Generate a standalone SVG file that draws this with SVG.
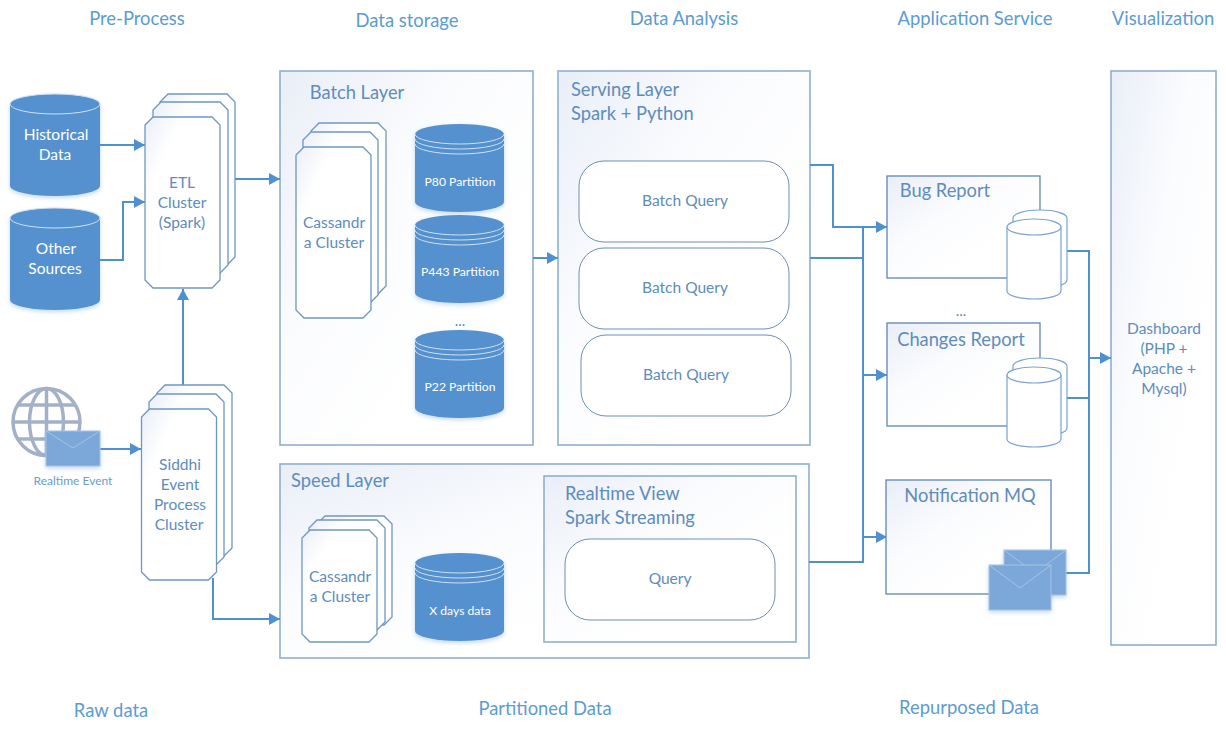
<svg xmlns="http://www.w3.org/2000/svg" xmlns:xlink="http://www.w3.org/1999/xlink" width="1226" height="733" viewBox="0 0 1226 733">
<style>
text{font-family:"Lato","Open Sans","Liberation Sans",sans-serif;text-anchor:middle;fill:#5b9bd5}
.h{font-size:18.4px}
.t{font-size:15.5px;fill:#5d8cbd}
.l{font-size:18.3px;fill:#5d8cbd}
.w{font-size:15.5px;fill:#fff}
.s{font-size:12.2px;fill:#fff}
.box{fill:url(#g);stroke:#8faed0;stroke-width:1.6}
.sm{fill:url(#g);stroke:#5f86b3;stroke-width:1.3}
.card{fill:url(#k);stroke:#6f96c2;stroke-width:1.3}
.rr{fill:#fff;stroke:#6f8fb5;stroke-width:1}
.cyl{fill:#5591cf;filter:url(#sh)}
.rim{fill:none;stroke:#cfe0f2;stroke-width:1}
.c2{fill:#fff;stroke:#7ca2cf;stroke-width:1.2}
.env{fill:#7ba7d9;stroke:#a9c3e2;stroke-width:1;filter:url(#sh)}
.flap{fill:none;stroke:#a9c3e2;stroke-width:1}
.cn{fill:none;stroke:#4e90d0;stroke-width:2}
.ah{fill:#4e90d0}
</style>
<defs>
<linearGradient id="g" x1="0" y1="0" x2="0.7" y2="0.7"><stop offset="0" stop-color="#e9eef7"/><stop offset="0.55" stop-color="#fbfcfe"/><stop offset="1" stop-color="#fff"/></linearGradient>
<linearGradient id="k" x1="0" y1="0" x2="0.5" y2="0.5"><stop offset="0" stop-color="#eaeff7"/><stop offset="0.5" stop-color="#fff"/><stop offset="1" stop-color="#fff"/></linearGradient>
<filter id="sh" x="-10%" y="-10%" width="120%" height="125%"><feDropShadow dx="0" dy="2" stdDeviation="2" flood-color="#5591cf" flood-opacity="0.35"/></filter>
<marker id="a" markerUnits="userSpaceOnUse" markerWidth="12" markerHeight="12" refX="11" refY="6" orient="auto"><path class="ah" d="M0,0 L11,6 L0,12 Z"/></marker>
<path id="stack" d="M8,0 H67 L75,8 V163 L67,171 H8 L0,163 V8 Z"/>
<path id="cylb" d="M0,10 A45,10 0 0 1 90,10 V92 A45,10 0 0 1 0,92 Z"/>
</defs>

<g id="headings">
<text class="h" x="137" y="25">Pre-Process</text>
<text class="h" x="407" y="27">Data storage</text>
<text class="h" x="684" y="25">Data Analysis</text>
<text class="h" x="975" y="25">Application Service</text>
<text class="h" x="1163" y="25">Visualization</text>
<text class="h" x="111" y="717">Raw data</text>
<text class="h" x="545" y="715">Partitioned Data</text>
<text class="h" x="969" y="714">Repurposed Data</text>
</g>

<g id="batch-layer"><rect class="box" x="280" y="71" width="253" height="374"/><text class="l" x="357" y="99">Batch Layer</text></g>
<g id="serving-layer"><rect class="box" x="558" y="71" width="252" height="374"/><text class="l" x="571" y="96" style="text-anchor:start">Serving Layer</text><text class="l" x="571" y="120" style="text-anchor:start">Spark + Python</text></g>
<g id="speed-layer"><rect class="box" x="280" y="464" width="529" height="194"/><text class="l" x="340" y="487">Speed Layer</text></g>
<g id="realtime-view"><rect class="box" x="544" y="476" width="252" height="166"/><text class="l" x="565" y="500" style="text-anchor:start">Realtime View</text><text class="l" x="565" y="524" style="text-anchor:start">Spark Streaming</text></g>
<g id="dashboard"><rect class="box" x="1111" y="71" width="105" height="574"/><text class="t" x="1164" y="334">Dashboard</text><text class="t" x="1164" y="354">(PHP +</text><text class="t" x="1164" y="374">Apache +</text><text class="t" x="1164" y="394">Mysql)</text></g>

<g id="connectors">
<path class="cn" d="M100,145 H145" marker-end="url(#a)"/>
<path class="cn" d="M100,260 H123 V202 H145" marker-end="url(#a)"/>
<path class="cn" d="M235,179 H280" marker-end="url(#a)"/>
<path class="cn" d="M183,385 V289" marker-end="url(#a)"/>
<path class="cn" d="M100,449 H141" marker-end="url(#a)"/>
<path class="cn" d="M213,578 V619 H280" marker-end="url(#a)"/>
<path class="cn" d="M533,258 H558" marker-end="url(#a)"/>
<path class="cn" d="M810,165 H833 V227 H887" marker-end="url(#a)"/>
<path class="cn" d="M810,258 H863"/>
<path class="cn" d="M863,227 V562 H809"/>
<path class="cn" d="M863,375 H887" marker-end="url(#a)"/>
<path class="cn" d="M863,537 H887" marker-end="url(#a)"/>
<path class="cn" d="M1067,251 H1089 V573 H1066"/>
<path class="cn" d="M1067,398 H1089"/>
<path class="cn" d="M1089,358 H1111" marker-end="url(#a)"/>
</g>

<g id="historical-data"><use xlink:href="#cylb" href="#cylb" class="cyl" x="10" y="94"/><ellipse class="rim" cx="55" cy="104" rx="45" ry="10"/><text class="w" x="56" y="140">Historical</text><text class="w" x="55" y="160">Data</text></g>
<g id="other-sources"><use href="#cylb" class="cyl" x="10" y="208"/><ellipse class="rim" cx="55" cy="218" rx="45" ry="10"/><text class="w" x="56" y="254">Other</text><text class="w" x="55" y="274">Sources</text></g>

<g id="etl-cluster">
<use href="#stack" class="card" x="160" y="94"/><use href="#stack" class="card" x="153" y="102"/><use href="#stack" class="card" x="145" y="117"/>
<text class="t" x="182" y="188">ETL</text><text class="t" x="182" y="208">Cluster</text><text class="t" x="182" y="228">(Spark)</text>
</g>

<g id="realtime-event">
<g fill="none" stroke="#a3b1c8" stroke-width="3.500"><circle cx="46.500" cy="422" r="33.500"/><ellipse cx="46.500" cy="422" rx="17" ry="33.500"/><path d="M46.500,388 V456 M18,405 H75 M13,422 H80 M18,439 H75"/></g>
<rect class="env" x="46" y="431" width="54" height="35"/><path class="flap" d="M46,431 L73,448 L100,431"/>
<text x="73" y="485" style="font-size:12px;fill:#6d9bcb">Realtime Event</text>
</g>

<g id="siddhi-cluster">
<use href="#stack" class="card" x="157" y="385"/><use href="#stack" class="card" x="149" y="394"/><use href="#stack" class="card" x="141.500" y="409"/>
<text class="t" x="180" y="470">Siddhi</text><text class="t" x="180" y="490">Event</text><text class="t" x="180" y="510">Process</text><text class="t" x="179" y="530">Cluster</text>
</g>

<g id="cassandra-batch">
<use href="#stack" class="card" x="311" y="123"/><use href="#stack" class="card" x="303" y="132"/><use href="#stack" class="card" x="296" y="147"/>
<text class="t" x="334" y="228">Cassandr</text><text class="t" x="334" y="248">a Cluster</text>
</g>

<g id="p80"><path class="cyl" d="M415,134 A44.500,10 0 0 1 504,134 V202 A44.500,10 0 0 1 415,202 Z"/><path class="rim" d="M415,134 A44.500,10 0 0 0 504,134 M415,139 A44.500,10 0 0 0 504,139 M415,144 A44.500,10 0 0 0 504,144"/><text class="s" x="460" y="186">P80 Partition</text></g>
<g id="p443"><path class="cyl" d="M415,225 A44.500,10 0 0 1 504,225 V293 A44.500,10 0 0 1 415,293 Z"/><path class="rim" d="M415,225 A44.500,10 0 0 0 504,225 M415,230 A44.500,10 0 0 0 504,230 M415,235 A44.500,10 0 0 0 504,235"/><text class="s" x="460" y="276">P443 Partition</text></g>
<text x="460" y="326" style="font-size:15px;fill:#5d8cbd">...</text>
<g id="p22"><path class="cyl" d="M415,340 A44.500,10 0 0 1 504,340 V408 A44.500,10 0 0 1 415,408 Z"/><path class="rim" d="M415,340 A44.500,10 0 0 0 504,340 M415,345 A44.500,10 0 0 0 504,345 M415,350 A44.500,10 0 0 0 504,350"/><text class="s" x="460" y="391">P22 Partition</text></g>

<g id="batch-query-1"><rect class="rr" x="579" y="161" width="210" height="81" rx="25"/><text class="t" x="685" y="206">Batch Query</text></g>
<g id="batch-query-2"><rect class="rr" x="579" y="248" width="210" height="81" rx="25"/><text class="t" x="685" y="293">Batch Query</text></g>
<g id="batch-query-3"><rect class="rr" x="581" y="335" width="210" height="81" rx="25"/><text class="t" x="686" y="380">Batch Query</text></g>

<g id="cassandra-speed">
<path class="card" d="M325,516 H384 L392,524 V617 L384,625 H317 V524 Z"/>
<path class="card" d="M317,520 H377 L385,528 V622 L377,630 H309 V528 Z"/>
<path class="card" d="M310,530 H369 L377,538 V634 L369,642 H310 L302,634 V538 Z"/>
<text class="t" x="340" y="582">Cassandr</text><text class="t" x="340" y="602">a Cluster</text>
</g>
<g id="x-days"><path class="cyl" d="M415,563 A44.500,10 0 0 1 504,563 V631 A44.500,10 0 0 1 415,631 Z"/><path class="rim" d="M415,563 A44.500,10 0 0 0 504,563 M415,568 A44.500,10 0 0 0 504,568 M415,573 A44.500,10 0 0 0 504,573"/><text class="s" x="460" y="615">X days data</text></g>
<g id="query"><rect class="rr" x="565" y="539" width="210" height="81" rx="25"/><text class="t" x="670" y="584">Query</text></g>

<g id="bug-report">
<rect class="sm" x="887" y="176" width="153" height="102"/><text class="l" x="945" y="197">Bug Report</text>
<path class="c2" d="M1013,218 A27,8 0 0 1 1067,218 V280 A27,8 0 0 1 1013,280 Z"/>
<path class="c2" d="M1007,227 A27,8 0 0 1 1061,227 V291 A27,8 0 0 1 1007,291 Z"/><path class="c2" d="M1007,227 A27,8 0 0 0 1061,227" fill="none"/>
</g>
<text x="961" y="316" style="font-size:15px;fill:#5d8cbd">...</text>
<g id="changes-report">
<rect class="sm" x="887" y="323" width="153" height="103"/><text class="l" x="961" y="346">Changes Report</text>
<path class="c2" d="M1013,366 A27,8 0 0 1 1067,366 V428 A27,8 0 0 1 1013,428 Z"/>
<path class="c2" d="M1007,375 A27,8 0 0 1 1061,375 V439 A27,8 0 0 1 1007,439 Z"/><path class="c2" d="M1007,375 A27,8 0 0 0 1061,375" fill="none"/>
</g>
<g id="notification-mq">
<rect class="sm" x="886" y="480" width="165" height="114"/><text class="l" x="970" y="502">Notification MQ</text>
<rect class="env" x="1004" y="550" width="62" height="45"/><path class="flap" d="M1004,550 L1035,573 L1066,550"/>
<rect class="env" x="989" y="565" width="62" height="45"/><path class="flap" d="M989,565 L1020,588 L1051,565"/>
</g>
</svg>
